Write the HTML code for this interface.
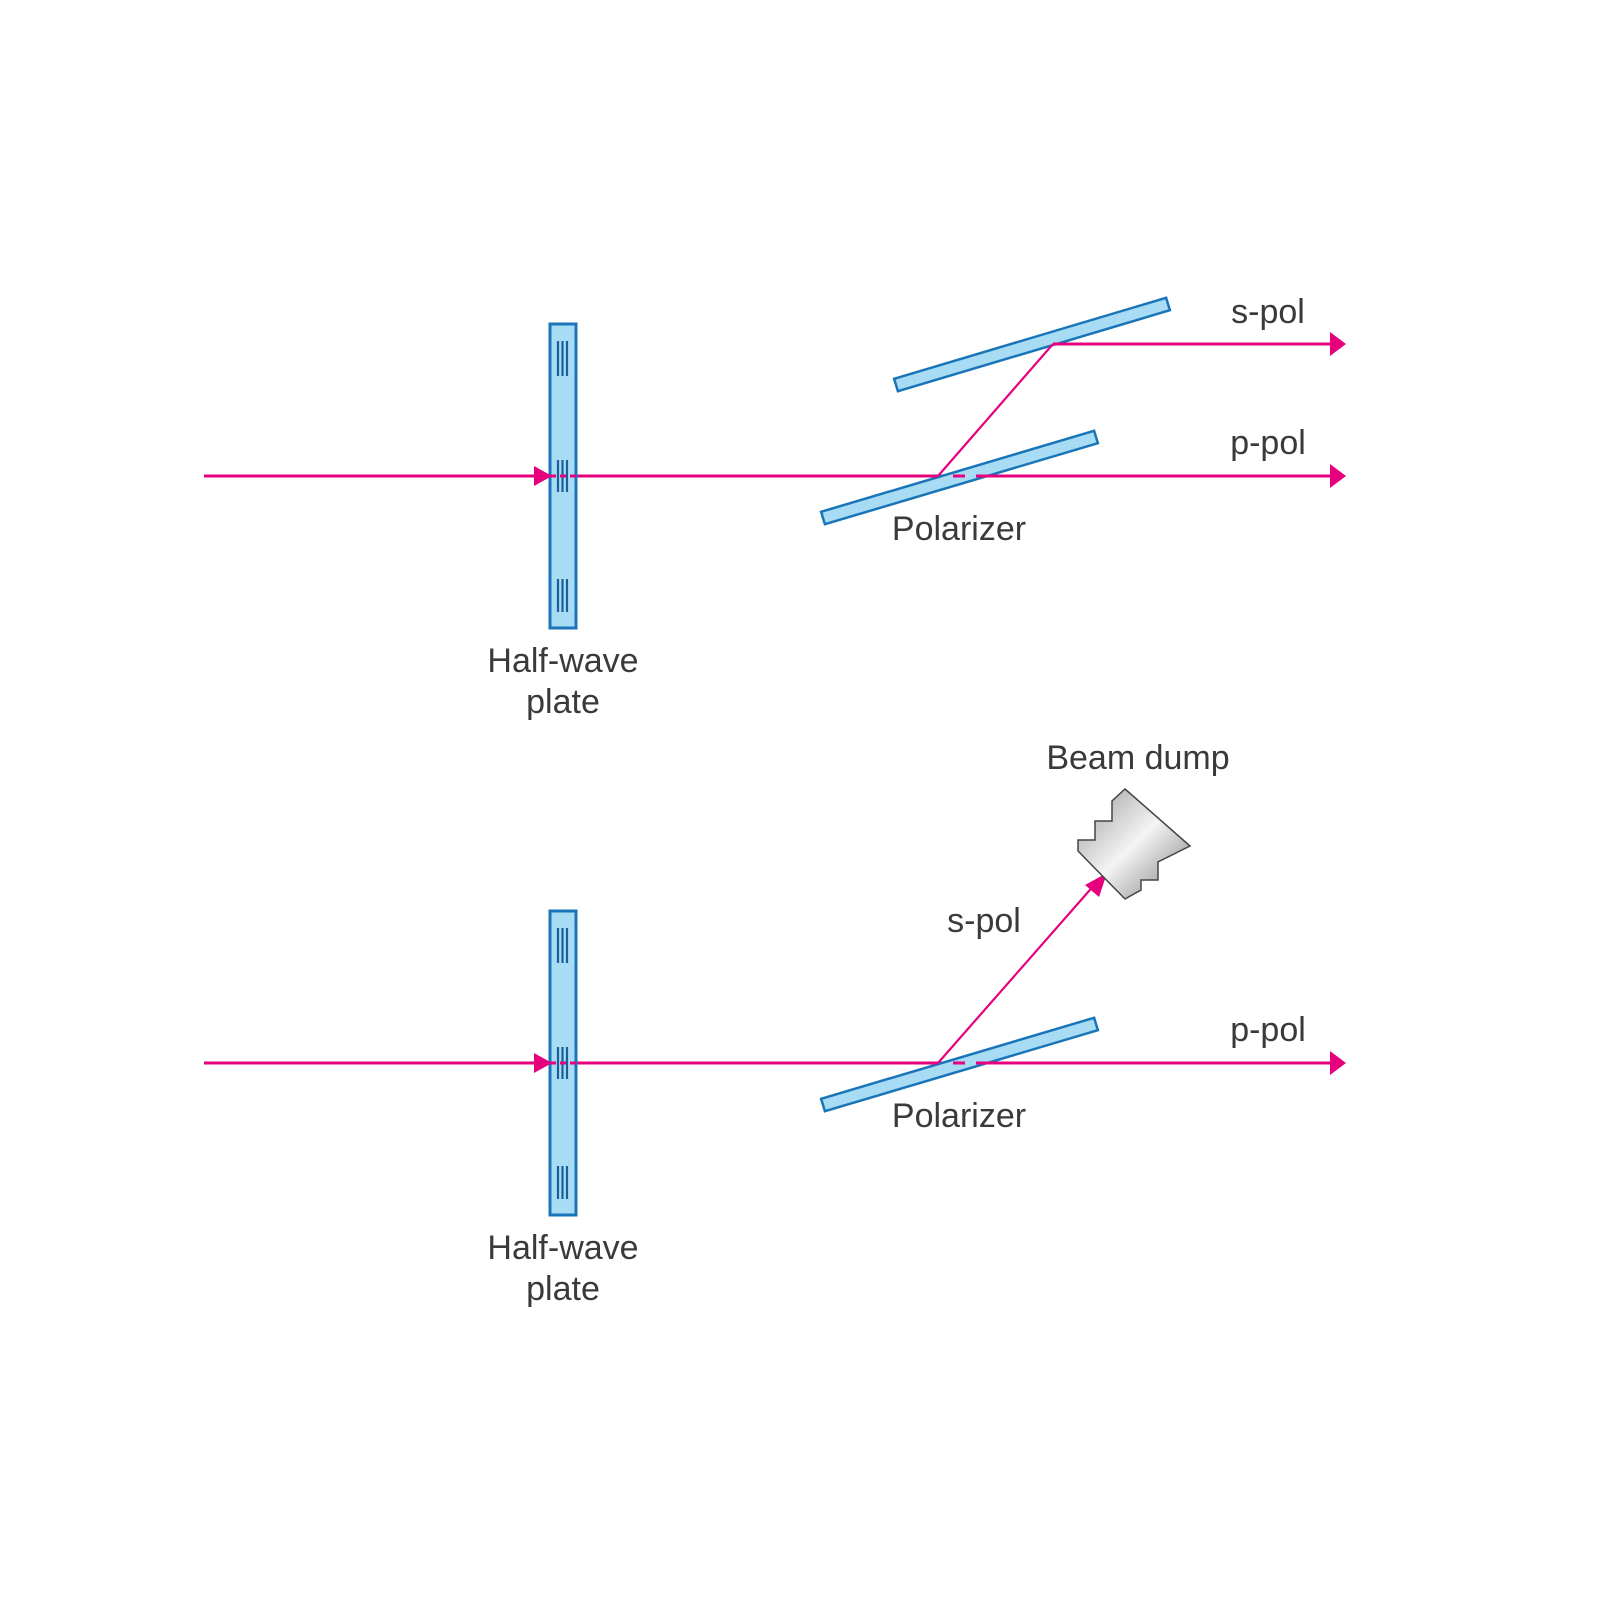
<!DOCTYPE html>
<html><head><meta charset="utf-8"><style>
html,body{margin:0;padding:0;background:#fff;}
svg{display:block}
text{font-family:"Liberation Sans",sans-serif;font-size:34px;fill:#3a3a3a;text-anchor:middle}
</style></head><body>
<svg width="1600" height="1600" viewBox="0 0 1600 1600" xmlns="http://www.w3.org/2000/svg">
<defs>
<linearGradient id="g" x1="0" y1="0" x2="1" y2="1">
<stop offset="0" stop-color="#9a9a9a"/><stop offset="0.5" stop-color="#f4f4f4"/><stop offset="1" stop-color="#7a7a7a"/>
</linearGradient>
<g id="plate">
<rect x="550" y="324" width="26" height="304" fill="#a8dcf5" stroke="#1a75b8" stroke-width="3"/>
<g stroke="#1a5f99" stroke-width="2.2">
<line x1="558" y1="341" x2="558" y2="376"/><line x1="562.5" y1="341" x2="562.5" y2="376"/><line x1="567" y1="341" x2="567" y2="376"/>
<line x1="558" y1="460" x2="558" y2="492"/><line x1="562.5" y1="460" x2="562.5" y2="492"/><line x1="567" y1="460" x2="567" y2="492"/>
<line x1="558" y1="579" x2="558" y2="612"/><line x1="562.5" y1="579" x2="562.5" y2="612"/><line x1="567" y1="579" x2="567" y2="612"/>
</g>
</g>
<polygon id="lowpol" points="821.1,511.8 1094.1,430.8 1097.9,443.2 824.9,524.2" fill="#a8dcf5" stroke="#1a75b8" stroke-width="2.5"/>
</defs>

<!-- TOP -->
<line x1="204" y1="476" x2="1330" y2="476" stroke="#e6007e" stroke-width="3"/>
<use href="#plate"/>
<line x1="550" y1="476" x2="576" y2="476" stroke="#e6007e" stroke-width="3" stroke-dasharray="6 4"/>
<polygon points="534,466 552,476 534,486" fill="#e6007e"/>
<polygon points="1330,464 1346,476 1330,488" fill="#e6007e"/>
<polygon points="894.1,378.8 1166.1,297.8 1169.9,310.2 897.9,391.2" fill="#a8dcf5" stroke="#1a75b8" stroke-width="2.5"/>
<use href="#lowpol"/>
<line x1="820" y1="476" x2="938" y2="476" stroke="#e6007e" stroke-width="3"/>
<line x1="953" y1="476" x2="965" y2="476" stroke="#e6007e" stroke-width="3"/>
<line x1="976" y1="476" x2="1330" y2="476" stroke="#e6007e" stroke-width="3"/>
<line x1="938" y1="476" x2="1053" y2="344" stroke="#e6007e" stroke-width="2.2"/>
<line x1="1053" y1="344" x2="1330" y2="344" stroke="#e6007e" stroke-width="3"/>
<polygon points="1330,332 1346,344 1330,356" fill="#e6007e"/>
<text x="1268" y="323">s-pol</text>
<text x="1268" y="454">p-pol</text>
<text x="959" y="540">Polarizer</text>
<text x="563" y="672">Half-wave</text>
<text x="563" y="713">plate</text>

<!-- BOTTOM -->
<g transform="translate(0,587)">
<line x1="204" y1="476" x2="1330" y2="476" stroke="#e6007e" stroke-width="3"/>
<use href="#plate"/>
<line x1="550" y1="476" x2="576" y2="476" stroke="#e6007e" stroke-width="3" stroke-dasharray="6 4"/>
<polygon points="534,466 552,476 534,486" fill="#e6007e"/>
<polygon points="1330,464 1346,476 1330,488" fill="#e6007e"/>
<use href="#lowpol"/>
<line x1="820" y1="476" x2="938" y2="476" stroke="#e6007e" stroke-width="3"/>
<line x1="953" y1="476" x2="965" y2="476" stroke="#e6007e" stroke-width="3"/>
<line x1="976" y1="476" x2="1330" y2="476" stroke="#e6007e" stroke-width="3"/>
<text x="1268" y="454">p-pol</text>
<text x="959" y="540">Polarizer</text>
<text x="563" y="672">Half-wave</text>
<text x="563" y="713">plate</text>
</g>
<line x1="938" y1="1063" x2="1096" y2="883" stroke="#e6007e" stroke-width="2.2"/>
<polygon points="1107,873 1099,897 1085,885" fill="#e6007e"/>
<polygon points="1125,789 1190,846 1158,862 1158,880 1141,880 1141,890 1125,899 1078,851 1078,840 1095,840 1095,821 1112,821 1112,801" fill="url(#g)" stroke="#444" stroke-width="1.5"/>
<text x="984" y="932">s-pol</text>
<text x="1138" y="769">Beam dump</text>
</svg>
</body></html>
